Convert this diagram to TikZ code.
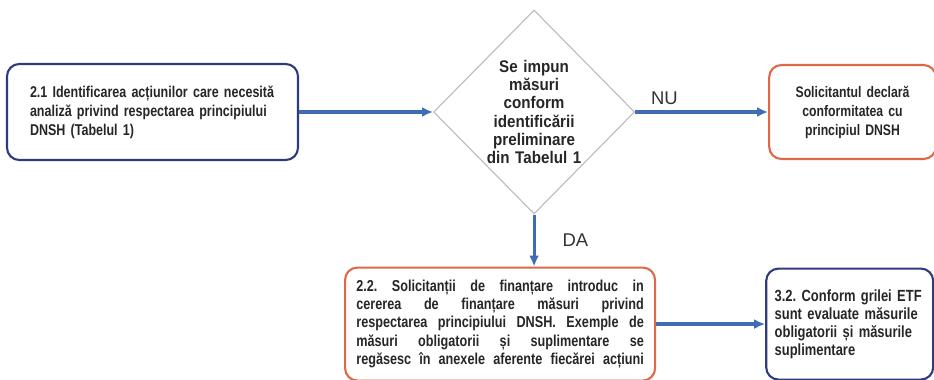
\documentclass[tikz,border=0pt]{standalone}
\usepackage{fontspec}
\setmainfont{Liberation Sans}
\newfontfamily\boxfont{Liberation Sans}[FakeStretch=0.8]
\newfontfamily\wideboxfont{Liberation Sans}[FakeStretch=0.9]
\usetikzlibrary{arrows.meta, positioning, shapes.geometric}
\definecolor{navyline}{HTML}{2E3B80}
\definecolor{redline}{HTML}{E0684A}
\definecolor{arrowblue}{HTML}{3F6DB3}
\newcommand{\fullline}[1]{\leavevmode{\spaceskip=0.22em plus 1fil\relax\hbox to 5.75cm{#1}}}
\frenchspacing

\begin{document}
\begin{tikzpicture}[
  box/.style  ={draw=navyline, line width=1.2pt, rounded corners=7pt, align=left,
                font=\boxfont\bfseries\fontsize{8.9}{10.8}\selectfont, text=black!85},
  rbox/.style ={box, draw=redline},
  dec/.style  ={diamond, draw=gray!55, line width=0.6pt, align=center, inner sep=0pt,
                text width=1.9cm, minimum width=4.02cm, minimum height=4.08cm,
                font=\wideboxfont\bfseries\fontsize{9.6}{10.4}\selectfont, text=black!85},
  arr/.style  ={-{Latex[length=2.2mm, width=2mm]}, line width=1.8pt, arrowblue},
  lbl/.style  ={font=\fontsize{10.5}{12}\selectfont, text=black!80},
]
\useasboundingbox (0,0) rectangle (18.68,-7.6);

%% ---- Row 1 ----
\node[box, text width=4.9cm, minimum width=5.82cm, minimum height=1.92cm] (ident) at (3.05,-2.24)
  {2.1 Identificarea acțiunilor care necesită analiză privind respectarea principiului DNSH (Tabelul 1)};
\node[dec, right=2.68cm of ident] (cond)
  {Se impun\\măsuri\\conform\\identificării\\preliminare\\din Tabelul 1};
\node[rbox, align=center, text width=3.1cm, minimum width=3.32cm, minimum height=1.88cm,
      font=\boxfont\bfseries\fontsize{8.7}{10.8}\selectfont, right=2.66cm of cond] (decl)
  {Solicitantul declară\\conformitatea cu\\principiul DNSH};

%% ---- Row 2 ----
\node[rbox, text width=5.75cm, minimum width=6.2cm, minimum height=2.26cm,
      font=\boxfont\bfseries\fontsize{9}{10.3}\selectfont,
      below=1.04cm of cond, xshift=-0.68cm] (masuri)
  {\fullline{2.2. Solicitanții de finanțare introduc in}\\
   \fullline{cererea de finanțare măsuri privind}\\
   \fullline{respectarea principiului DNSH. Exemple de}\\
   \fullline{măsuri obligatorii și suplimentare se}\\
   \fullline{regăsesc în anexele aferente fiecărei acțiuni}};
\node[box, text width=3.0cm, minimum width=3.34cm, minimum height=2.22cm,
      font=\boxfont\bfseries\fontsize{9.2}{10.3}\selectfont,
      right=2.18cm of masuri] (eval)
  {3.2. Conform grilei ETF\\sunt evaluate măsurile\\obligatorii și măsurile\\suplimentare};

%% ---- Arrows ----
\draw[arr] (ident.east) -- (cond.west);
\draw[arr] (cond.east) -- node[lbl, above, pos=0.22]{NU} (decl.west |- cond.east);
\draw[arr] (cond.south) -- node[lbl, right=0.42cm]{DA} (cond.south |- masuri.north);
\draw[arr] (masuri.east) -- (eval.west);

\end{tikzpicture}
\end{document}
